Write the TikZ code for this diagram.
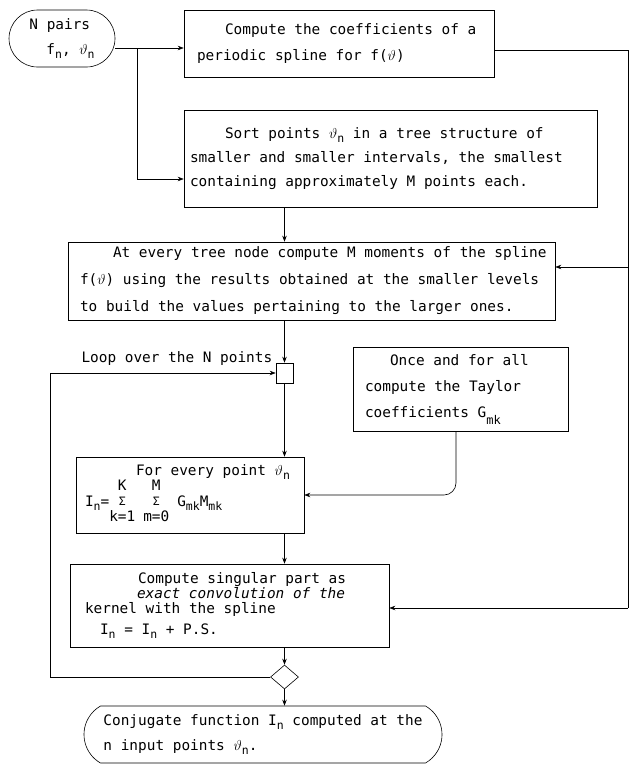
\documentclass[tikz,border=0pt]{standalone}
\usepackage{fontspec}
\setmainfont{DejaVu Sans Mono}
\usetikzlibrary{arrows.meta,shapes.geometric,shapes.misc}
\newcommand{\lsub}[1]{\raisebox{-4pt}{\fontsize{11.5}{11.5}\selectfont #1}}
\newcommand{\lowsub}[1]{\raisebox{-7pt}{\fontsize{12}{12}\selectfont #1}}
\newcommand{\monosp}{\spaceskip=0.602em\relax\xspaceskip=0.602em\relax}
\newcommand{\sumstack}[2]{{\fontsize{14.4}{15}\selectfont\begin{tabular}[c]{@{}c@{}}#1\\\scalebox{0.8}{Σ}\\#2\end{tabular}}}
\begin{document}
\begin{tikzpicture}[x=1pt,y=-1pt,
  every node/.style={font=\fontsize{14.4}{25}\selectfont},
  box/.style={draw, line width=0.6pt, rectangle, align=left, inner xsep=4pt, inner ysep=2pt},
  term/.style={draw, line width=0.6pt, rounded rectangle, align=left, inner sep=2pt},
  conn/.style={line width=0.6pt},
  arr/.style={conn, -{Stealth[length=6pt,width=4.5pt]}}]
\useasboundingbox (0,0) rectangle (630,766);

\node[term, minimum width=110pt, minimum height=57pt] (start) at (62,38.5)
  {\monosp N pairs\\\hspace*{17pt}f\lsub{n}, $\vartheta$\lsub{n}};
\node[box, font=\fontsize{14.4}{26}\selectfont, minimum width=310pt, minimum height=67pt, text width=302pt] (box1) at (339,43.5)
  {\monosp\hspace*{37pt}Compute the coefficients of a\\\hspace*{9pt}periodic spline for f($\vartheta$)};
\node[box, font=\fontsize{14.4}{24}\selectfont, minimum width=413pt, minimum height=97pt, text width=405pt] (box2) at (390.5,158.5)
  {\monosp\hspace*{37pt}Sort points $\vartheta$\lsub{n} in a tree structure of\\\hspace*{2pt}smaller and smaller intervals, the smallest\\\hspace*{2pt}containing approximately M points each.};
\node[box, font=\fontsize{14.4}{27}\selectfont, minimum width=487pt, minimum height=78pt, text width=479pt] (box3) at (311.5,281)
  {\monosp\hspace*{41pt}At every tree node compute M moments of the spline\\\hspace*{8pt}f($\vartheta$) using the results obtained at the smaller levels\\\hspace*{8pt}to build the values pertaining to the larger ones.};
\node[draw, line width=0.6pt, minimum width=17pt, minimum height=20pt, inner sep=0pt] (sq) at (284.5,373) {};
\node[anchor=base west] (looplbl) at (78,362) {Loop over the N points};
\node[box, font=\fontsize{14.4}{26}\selectfont, minimum width=215pt, minimum height=84pt, text width=207pt] (once) at (460.5,389)
  {\monosp\hspace*{33pt}Once and for all\\\hspace*{8pt}compute the Taylor\\\hspace*{8pt}coefficients G\lowsub{mk}};
\node[box, minimum width=228pt, minimum height=76pt, text width=220pt] (box4) at (190,495)
  {\monosp\hspace*{56pt}For every point $\vartheta$\lsub{n}\\\hspace*{5pt}I\lsub{n}=\sumstack{K}{k=1}\hspace{8pt}\sumstack{M}{m=0}\hspace{8pt}G\lsub{mk}M\lsub{mk}};
\node[box, font=\fontsize{14.4}{15}\selectfont, minimum width=319pt, minimum height=83pt, text width=311pt] (box5) at (229.5,605.5)
  {\monosp\hspace*{64pt}Compute singular part as\\\hspace*{63pt}\textit{exact convolution of the}\\\hspace*{11pt}kernel with the spline\\[6pt]\hspace*{26pt}I\lsub{n} = I\lsub{n} + P.S.};
\node[draw, diamond, line width=0.6pt, minimum width=28pt, minimum height=24pt, inner sep=0pt] (dec) at (284.5,677) {};
\node[term, rounded rectangle arc length=120, minimum width=362pt, minimum height=57pt] (end) at (263,734.5)
  {\monosp Conjugate function I\lsub{n} computed at the\\n input points $\vartheta$\lsub{n}.};

\coordinate (j1) at (137,48);
\coordinate (j2) at (137,179);
\coordinate (r1) at (628,50);
\coordinate (r2) at (628,267);
\coordinate (r3) at (628,608);
\coordinate (l1) at (50,677);
\coordinate (l2) at (50,373);
\coordinate (o1) at (456,495);
\coordinate (sp) at (284.5,0);

\draw[arr] (start.east |- j1) -- (j1 -| box1.west);
\draw[arr] (j1) |- (j2 -| box2.west);
\draw[conn] (box1.east |- r1) -- (r1) -- (r3);
\draw[arr] (r2) -- (r2 -| box3.east);
\draw[arr] (r3) -- (r3 -| box5.east);
\draw[arr] (box2.south -| sp) -- (box3.north -| sp);
\draw[arr] (box3.south -| sp) -- (sq.north);
\draw[arr] (sq.south) -- (box4.north -| sq);
\draw[arr] (box4.south -| sq) -- (box5.north -| sq);
\draw[arr] (box5.south -| sq) -- (dec.north);
\draw[arr] (dec.south) -- (end.north -| dec);
\draw[arr] (dec.west) -- (l1) -- (l2) -- (sq.west);
\draw[arr, rounded corners=12pt] (once.south -| o1) |- (box4.east);
\end{tikzpicture}
\end{document}
